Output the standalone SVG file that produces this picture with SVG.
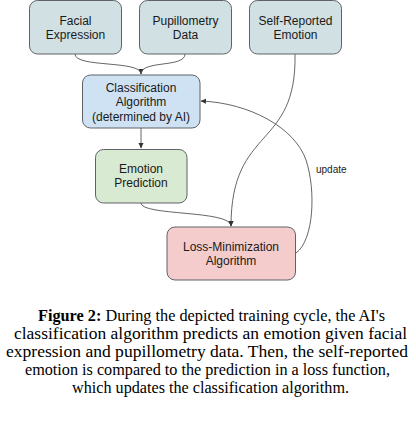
<svg xmlns="http://www.w3.org/2000/svg" width="416" height="427" viewBox="0 0 416 427">
<style>
.box{stroke:#5f6368;stroke-width:1}
.lbl{font-family:"Liberation Sans",Arial,sans-serif;font-size:12px;fill:#1a1a1a;text-anchor:middle}
.conn{fill:none;stroke:#555;stroke-width:0.9}
.cap{font-family:"Liberation Serif","Times New Roman",serif;font-size:17.3px;fill:#000}
</style>
<defs>
<marker id="ah" markerUnits="userSpaceOnUse" markerWidth="6" markerHeight="6" viewBox="0 0 6 6" refX="5" refY="3" orient="auto">
<path d="M0,0.5 L5.5,3 L0,5.5 Z" fill="#333"/>
</marker>
</defs>
<rect width="416" height="427" fill="#fff"/>
<g id="connectors">
<path class="conn" d="M75,54 C75,68 141,60 141,74" marker-end="url(#ah)"/>
<path class="conn" d="M185,54 C185,68 141,60 141,74"/>
<path class="conn" d="M141,128 L141,148" marker-end="url(#ah)"/>
<path class="conn" d="M141,203 C141,216 231,210 231,226" marker-end="url(#ah)"/>
<path class="conn" d="M295,54 C297,150 231,125 231,226" marker-end="url(#ah)"/>
<path class="conn" d="M296,253 C314,240 316,190 306,160 C295,128 250,103 201,101" marker-end="url(#ah)"/>
<text x="316" y="173" style="font-family:'Liberation Sans',Arial,sans-serif;font-size:10px;fill:#1a1a1a">update</text>
</g>
<g id="facial">
<rect class="box" x="29.5" y="0.5" width="92" height="53.5" rx="8" fill="#d0e0e3"/>
<text class="lbl" x="75.5" y="25">Facial</text>
<text class="lbl" x="75.5" y="39">Expression</text>
</g>
<g id="pupil">
<rect class="box" x="139.5" y="0.5" width="92" height="53.5" rx="8" fill="#d0e0e3"/>
<text class="lbl" x="185.5" y="25">Pupillometry</text>
<text class="lbl" x="185.5" y="39">Data</text>
</g>
<g id="selfreport">
<rect class="box" x="249.5" y="0.5" width="92" height="53.5" rx="8" fill="#d0e0e3"/>
<text class="lbl" x="295.5" y="25">Self-Reported</text>
<text class="lbl" x="295.5" y="39">Emotion</text>
</g>
<g id="classification">
<rect class="box" x="82.5" y="75" width="117.5" height="53" rx="8" fill="#cfe2f3"/>
<text class="lbl" x="141" y="92">Classification</text>
<text class="lbl" x="141" y="106">Algorithm</text>
<text class="lbl" x="141" y="121">(determined by AI)</text>
</g>
<g id="prediction">
<rect class="box" x="95.5" y="149.5" width="91.5" height="53.5" rx="8" fill="#d9ead3"/>
<text class="lbl" x="141" y="173">Emotion</text>
<text class="lbl" x="141" y="187">Prediction</text>
</g>
<g id="loss">
<rect class="box" x="167" y="227" width="128.5" height="53" rx="8" fill="#f4cccc"/>
<text class="lbl" x="231" y="251">Loss-Minimization</text>
<text class="lbl" x="231" y="265">Algorithm</text>
</g>
<g id="caption">
<text class="cap" x="38" y="321" textLength="347" lengthAdjust="spacingAndGlyphs"><tspan font-weight="bold">Figure 2:</tspan> During the depicted training cycle, the AI's</text>
<text class="cap" x="14" y="339" textLength="393" lengthAdjust="spacingAndGlyphs">classification algorithm predicts an emotion given facial</text>
<text class="cap" x="6" y="357" textLength="402" lengthAdjust="spacingAndGlyphs">expression and pupillometry data. Then, the self-reported</text>
<text class="cap" x="25" y="375" textLength="365" lengthAdjust="spacingAndGlyphs">emotion is compared to the prediction in a loss function,</text>
<text class="cap" x="72" y="393" textLength="277" lengthAdjust="spacingAndGlyphs">which updates the classification algorithm.</text>
</g>
</svg>
